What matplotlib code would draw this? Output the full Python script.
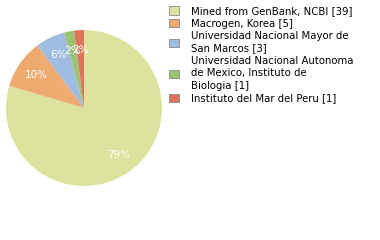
import matplotlib
matplotlib.use('Agg')
import matplotlib.pyplot as plt
from matplotlib.patches import Patch

labels = ['Mined from GenBank, NCBI [39]', 'Macrogen, Korea [5]',
          'Universidad Nacional Mayor de\nSan Marcos [3]',
          'Universidad Nacional Autonoma\nde Mexico, Instituto de\nBiologia [1]',
          'Instituto del Mar del Peru [1]']
values = [39, 5, 3, 1, 1]
colors = ['#dde39e', '#efaa70', '#9ebbe0', '#9ac471', '#e0735b']

total = sum(values)
pct_text = ['%d%%' % int(v * 100.0 / total) for v in values]

fig = plt.figure(figsize=(3.8, 2.4), dpi=100)
ax = fig.add_axes([0.0158, 0.225, 0.4105, 0.65])
wedges, texts = ax.pie(values, colors=colors, startangle=90, counterclock=False,
                       labels=pct_text, labeldistance=0.75,
                       textprops={'color': 'white', 'fontsize': 7.5})
for t in texts:
    t.set_ha('center')
    t.set_va('center')
ax.set_xlim(-1, 1)
ax.set_ylim(-1, 1)
ax.set_aspect('equal')

handles = [Patch(facecolor=c, edgecolor='#888888', linewidth=0.6) for c in colors]
leg = fig.legend(handles, labels, loc='upper left', bbox_to_anchor=(0.43, 1.0),
                 frameon=False, fontsize=7.3, handlelength=0.9, handleheight=0.9,
                 handletextpad=1.2, labelspacing=0.25, borderaxespad=0.2)
for t in leg.get_texts():
    t.set_linespacing(1.3)

fig.savefig('out.png', dpi=100)
